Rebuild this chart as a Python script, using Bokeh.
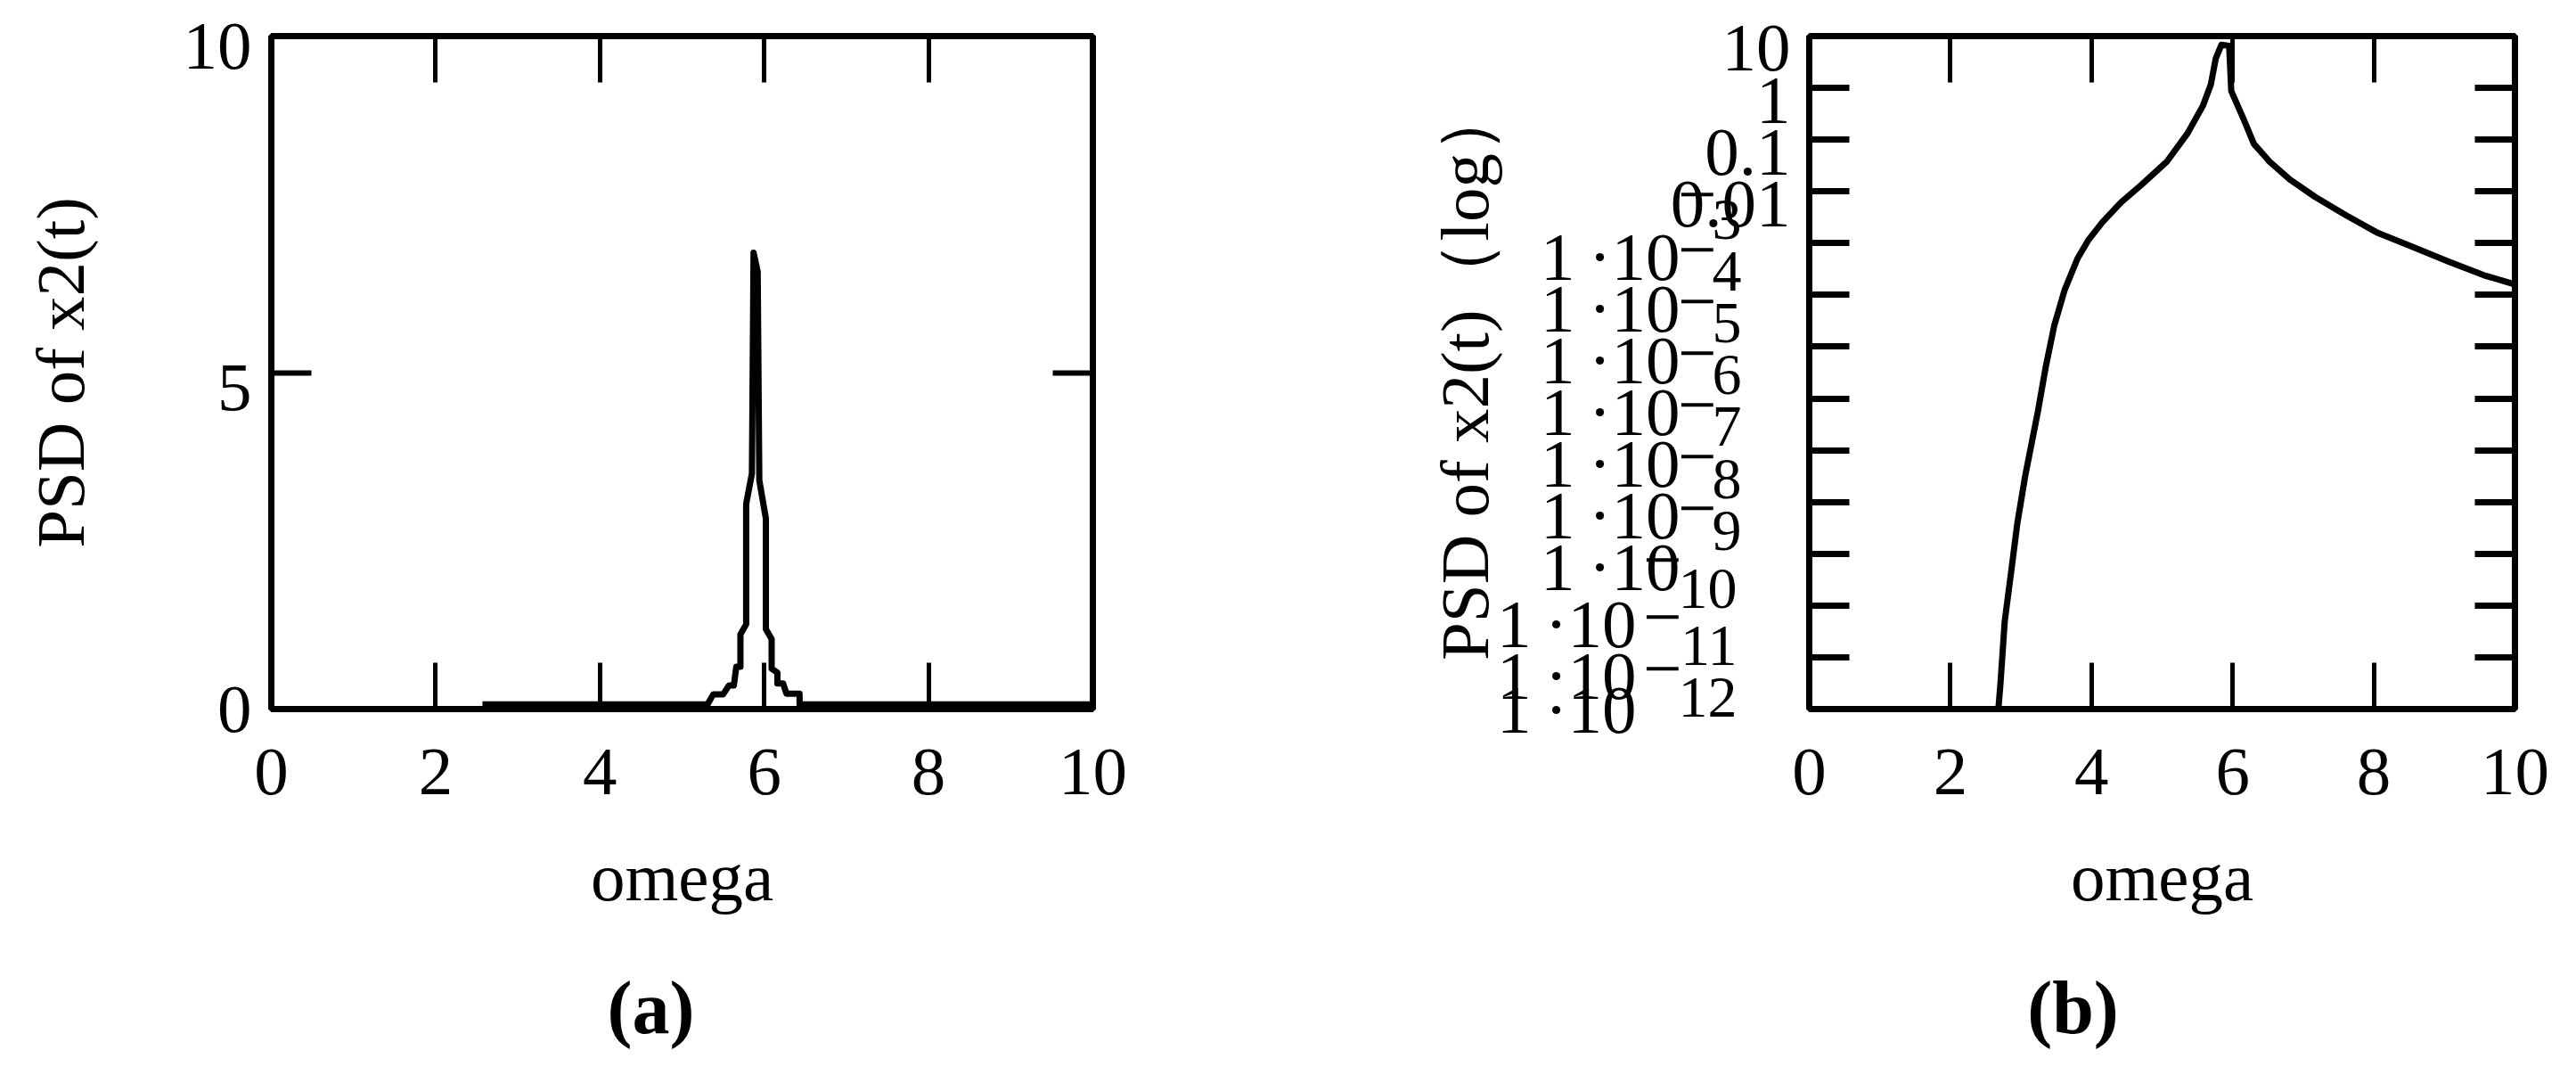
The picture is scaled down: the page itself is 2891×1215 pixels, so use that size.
import math
from bokeh.plotting import figure
from bokeh.models import (Range1d, LinearAxis, LogAxis, FixedTicker, CustomJSTickFormatter)
from bokeh.layouts import row
from bokeh.embed import file_html
from bokeh.resources import INLINE

# ---------------- data ----------------
x_ticks = [0, 2, 4, 6, 8, 10]
ya_ticks = [0, 5, 10]
ya_labels = ["0", "5", "10"]
yb_tick_exps = list(range(-12, 2))          # decades 1e-12 .. 10

# panel (a): linear PSD
omega_a = [2.57, 5.31, 5.38, 5.50, 5.57, 5.63, 5.66, 5.71, 5.71, 5.78, 5.78, 5.85, 5.87,
           5.92, 5.94, 6.02, 6.02, 6.09, 6.09, 6.16, 6.16, 6.23, 6.27, 6.43, 6.43, 10.0]
psd_a = [0.07, 0.07, 0.22, 0.22, 0.35, 0.35, 0.63, 0.63, 1.11, 1.26, 3.05, 3.50, 6.78,
         6.50, 3.40, 2.83, 1.19, 1.04, 0.60, 0.54, 0.38, 0.38, 0.23, 0.23, 0.07, 0.07]

# panel (b): log PSD
omega_b = [2.68, 2.71, 2.77, 2.87, 2.95, 3.06, 3.24, 3.35, 3.47, 3.62, 3.80, 3.95, 4.15,
           4.42, 4.71, 5.07, 5.36, 5.58, 5.69, 5.76, 5.84, 5.95, 5.98, 6.16, 6.30, 6.52,
           6.81, 7.17, 7.60, 8.04, 8.55, 9.06, 9.56, 10.0]
psd_b = [1e-12, 3.2e-12, 5.0e-11, 5.6e-10, 4.0e-9, 3.2e-8, 5.6e-7, 4.0e-6, 2.5e-5,
         1.26e-4, 5.0e-4, 1.12e-3, 2.5e-3, 6.2e-3, 1.35e-2, 3.8e-2, 0.132, 0.457, 1.15,
         3.7, 6.78, 6.5, 0.87, 0.24, 0.083, 0.038, 0.017, 7.8e-3, 3.5e-3, 1.62e-3,
         8.5e-4, 4.4e-4, 2.4e-4, 1.6e-4]

yb_top_labels = ["10", "1", "0.1", "0.01"]
yb_exp_labels = ["4", "5", "6", "7", "8", "9", "10", "11", "12"]

x_title = "omega"
ya_title = "PSD of x2(t)"
yb_title = "PSD of x2(t)（log）"
cap_a = "(a)"
cap_b = "(b)"

# ---------------- layout constants ----------------
FONT = "Liberation Serif"
FSN = 77
FS = "%dpx" % FSN
FSE = 66
FS_EXP = "%dpx" % FSE
H = 1195
PAGE = 8
A0_EXT = 10       # room taken by the tick-only axis next to the frame

W1, L1, FW1, T1, FH1 = 1420, 304, 922, 40, 755
W2, L2, FW2, T2, FH2 = 1455, 610, 792, 39, 756

AX_L = PAGE + L1
AX_R = AX_L + FW1
AY_T = PAGE + T1
AY_B = AY_T + FH1
BX_L = PAGE + W1 + L2
BX_R = BX_L + FW2
BY_T = PAGE + T2
BY_B = BY_T + FH2
YA_START, YA_END = 0.0, 10.0
YB_START, YB_END = 1e-12, 10.0


def ax_x(px):
    return (px - AX_L) / (AX_R - AX_L) * 10.0


def a_label_y(v, dpx):
    y = v - dpx / (AY_B - AY_T) * (YA_END - YA_START)
    return min(max(y, YA_START), YA_END)


def bx_x(px):
    return (px - BX_L) / (BX_R - BX_L) * 10.0


def bx_y(py):
    v = 10 ** (1 - (py - BY_T) / (BY_B - BY_T) * 13.0)
    return min(max(v, YB_START), YB_END)


def b_tick_py(k):
    return BY_T + (1 - k) * (BY_B - BY_T) / 13.0


BLANK = CustomJSTickFormatter(code="return ''")


def pick_formatter(vals, texts, log):
    code = """
    let best = 0, bd = Infinity;
    for (let i = 0; i < vals.length; i++) {
      const d = log ? Math.abs(Math.log10(tick) - Math.log10(vals[i])) : Math.abs(tick - vals[i]);
      if (d < bd) { bd = d; best = i; }
    }
    return texts[best];
    """
    return CustomJSTickFormatter(args=dict(vals=vals, texts=texts, log=log), code=code)


def tick_axis(ax, ticks, tick_len, tick_w, labels=True):
    ax.ticker = FixedTicker(ticks=ticks)
    ax.major_tick_in = tick_len
    ax.major_tick_out = 0
    ax.major_tick_line_width = tick_w
    ax.major_tick_line_color = "black"
    ax.minor_tick_line_color = None
    ax.axis_line_color = None
    ax.major_label_text_font = FONT
    ax.axis_label_text_font = FONT
    ax.axis_label_text_font_style = "normal"
    ax.axis_label_text_font_size = FS
    ax.axis_label_text_color = "black"
    if labels:
        ax.major_label_text_color = "black"
        ax.major_label_text_font_size = FS
    else:
        ax.formatter = BLANK
        ax.major_label_text_color = None
        ax.major_label_text_font_size = "1px"
        ax.major_label_standoff = 0


def text_axis(cls, vals, texts, size, standoff, log, style="normal"):
    ax = cls(ticker=FixedTicker(ticks=vals), formatter=pick_formatter(vals, texts, log))
    ax.major_tick_in = 0
    ax.major_tick_out = 0
    ax.major_tick_line_color = None
    ax.minor_tick_line_color = None
    ax.axis_line_color = None
    ax.major_label_standoff = int(standoff)
    ax.major_label_text_font = FONT
    ax.major_label_text_font_size = size
    ax.major_label_text_font_style = style
    ax.major_label_text_color = "black"
    ax.axis_label_text_font = FONT
    ax.axis_label_text_font_style = "normal"
    ax.axis_label_text_font_size = FS
    ax.axis_label_text_color = "black"
    return ax


def base_fig(width, l, fw, t, fh, y_range, y_type):
    p = figure(width=width, height=H, x_range=Range1d(0, 10), y_range=y_range,
               y_axis_type=y_type, output_backend="svg", toolbar_location=None,
               min_border_left=l, min_border_right=width - l - fw,
               min_border_top=t, min_border_bottom=H - t - fh)
    p.xgrid.visible = False
    p.ygrid.visible = False
    p.outline_line_color = "black"
    p.outline_line_width = 7
    p.background_fill_color = "white"
    p.border_fill_color = "white"
    return p


XLAB_STANDOFF = 45
XTITLE_STANDOFF = 47
CAP_STANDOFF = 54

# ---------------- panel (a) ----------------
p1 = base_fig(W1, L1, FW1, T1, FH1, Range1d(YA_START, YA_END), "linear")
xa = p1.xaxis[0]
tick_axis(xa, x_ticks, 52, 5)
xa.major_label_standoff = XLAB_STANDOFF
xa.axis_label = x_title
xa.axis_label_standoff = XTITLE_STANDOFF
tick_axis(p1.yaxis[0], ya_ticks, 45, 6, labels=False)
ya_pos = [a_label_y(0, 22), a_label_y(5, 17), a_label_y(10, 11)]
ya_lab = text_axis(LinearAxis, ya_pos, ya_labels, FS, 22, False)
ya_lab.axis_label = ya_title
ya_lab.axis_label_standoff = 92
p1.add_layout(ya_lab, "left")
top1 = LinearAxis()
tick_axis(top1, x_ticks, 52, 5, labels=False)
p1.add_layout(top1, "above")
right1 = LinearAxis()
tick_axis(right1, ya_ticks, 45, 6, labels=False)
p1.add_layout(right1, "right")
p1.add_layout(text_axis(LinearAxis, [ax_x(738)], [cap_a], "84px", CAP_STANDOFF, False,
                        style="bold"), "below")

p1.line(omega_a, psd_a, line_color="black", line_width=7, line_join="round")

# ---------------- panel (b) ----------------
p2 = base_fig(W2, L2, FW2, T2, FH2, Range1d(YB_START, YB_END), "log")
xb = p2.xaxis[0]
tick_axis(xb, x_ticks, 52, 5)
xb.major_label_standoff = XLAB_STANDOFF
xb.axis_label = x_title
xb.axis_label_standoff = XTITLE_STANDOFF
yt = [10.0 ** k for k in yb_tick_exps]
tick_axis(p2.yaxis[0], yt, 45, 7, labels=False)
top2 = LinearAxis()
tick_axis(top2, x_ticks, 52, 5, labels=False)
p2.add_layout(top2, "above")
right2 = LogAxis()
tick_axis(right2, yt, 45, 7, labels=False)
p2.add_layout(right2, "right")
p2.add_layout(text_axis(LinearAxis, [bx_x(2334)], [cap_b], "84px", CAP_STANDOFF, False,
                        style="bold"), "below")

p2.line(omega_b, psd_b, line_color="black", line_width=7, line_join="round")

# ---- Mathcad-style (overlapping) tick labels of the log axis, as stacked axes ----
one_ten = "1\u2009·10"
W_ONE_TEN = (0.5 + 0.2 + 0.25 + 0.5 + 0.5) * FSN
W_MINUS = 0.564 * FSN

top_pos, top_txt = [], []
for i, t in enumerate(yb_top_labels):
    top_pos.append(bx_y(b_tick_py(1 - i) + 14))
    top_txt.append(t)

exp1_pos, exp1_txt = [bx_y(253)], ["3"]
exp2_pos, exp2_txt = [], []
min1_pos, min1_txt = [bx_y(233 - 7)], ["−"]
min2_pos, min2_txt = [], []
ot1_pos, ot1_txt = [], []
ot2_pos, ot2_txt = [], []
for j, e in enumerate(yb_exp_labels + [None]):
    n = 4 + j
    cy = b_tick_py(-(n - 1)) + (15 if n <= 10 else 21)
    if n <= 10:
        ot1_pos.append(bx_y(cy)); ot1_txt.append(one_ten)
    else:
        ot2_pos.append(bx_y(cy)); ot2_txt.append(one_ten)
    if e is None:
        continue
    if len(e) == 1:
        min1_pos.append(bx_y(cy - 7)); min1_txt.append("−")
        exp1_pos.append(bx_y(cy + 17)); exp1_txt.append(e)
    else:
        min2_pos.append(bx_y(cy - 7)); min2_txt.append("−")
        exp2_pos.append(bx_y(cy + 24)); exp2_txt.append(e)

# (positions, texts, font size, target right edge, estimated width)
stack = [
    (top_pos, top_txt, FS, 2007, (0.5 + 0.25 + 0.5 + 0.5) * FSN),
    (exp1_pos, exp1_txt, FS_EXP, 1955, 0.5 * FSE),
    (exp2_pos, exp2_txt, FS_EXP, 1950, 1.0 * FSE),
    (min1_pos, min1_txt, FS, 1927, W_MINUS),
    (min2_pos, min2_txt, FS, 1888, W_MINUS),
    (ot1_pos, ot1_txt, FS, 1889, W_ONE_TEN),
    (ot2_pos, ot2_txt, FS, 1850, W_ONE_TEN),
]
# stacked side panels: each axis takes max(0, standoff + label width)
edge = BX_L - A0_EXT
for pos, txt, size, right_edge, w in stack:
    s = round(edge - right_edge)
    p2.add_layout(text_axis(LogAxis, pos, txt, size, s, True), "left")
    edge -= max(0.0, s + w)

title_ax = LogAxis(ticker=FixedTicker(ticks=[]), formatter=BLANK)
title_ax.major_tick_line_color = None
title_ax.minor_tick_line_color = None
title_ax.axis_line_color = None
title_ax.major_label_standoff = 0
title_ax.major_label_text_font_size = "1px"
title_ax.axis_label = yb_title
title_ax.axis_label_text_font = FONT
title_ax.axis_label_text_font_size = FS
title_ax.axis_label_text_font_style = "normal"
title_ax.axis_label_text_color = "black"
title_ax.axis_label_standoff = int(round(edge - 1678 - 32))
p2.add_layout(title_ax, "left")

layout = row(p1, p2)
open("out.html", "w").write(file_html(layout, INLINE))
